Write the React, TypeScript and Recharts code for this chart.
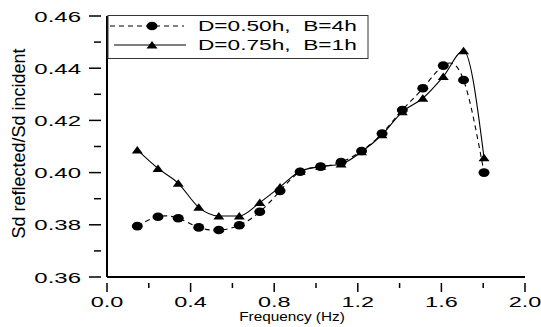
import { Label, Line, LineChart, XAxis, YAxis } from "recharts";

const freq = [0.145, 0.244, 0.341, 0.439, 0.535, 0.633, 0.731, 0.828, 0.924, 1.022, 1.12, 1.218, 1.316, 1.413, 1.511, 1.609, 1.706, 1.804];
const d50B4 = [0.3795, 0.3831, 0.3825, 0.379, 0.378, 0.3798, 0.385, 0.393, 0.4003, 0.4023, 0.404, 0.4083, 0.415, 0.424, 0.4323, 0.441, 0.4355, 0.4];
const d75B1 = [0.4087, 0.4016, 0.3959, 0.3867, 0.3834, 0.3834, 0.3885, 0.3945, 0.4005, 0.4023, 0.4033, 0.408, 0.4145, 0.4233, 0.4285, 0.4368, 0.4467, 0.4057];
const xTicks = [0, 0.2, 0.4, 0.6, 0.8, 1.0, 1.2, 1.4, 1.6, 1.8, 2.0];
const yTicks = [0.36, 0.37, 0.38, 0.39, 0.4, 0.41, 0.42, 0.43, 0.44, 0.45, 0.46];
const seriesNames = ["D=0.50h,  B=4h", "D=0.75h,  B=1h"];

const data = freq.map((f, i) => ({ f, a: d50B4[i], b: d75B1[i] }));

const font = "'Liberation Sans', Arial, sans-serif";

function XTick({ x, y, payload }: any) {
  const v = payload.value;
  const major = Math.round(v * 10) % 4 === 0;
  return (
    <g>
      <line x1={x} x2={x} y1={y} y2={y + (major ? 9 : 5)} stroke="#000" strokeWidth={1.5} />
      {major && (
        <text transform={`translate(${x},${y + 23.5}) scale(1.64,1)`} textAnchor="middle" fontSize={14.3} fontFamily={font} fill="#000">
          {v.toFixed(1)}
        </text>
      )}
    </g>
  );
}

function YTick({ x, y, payload }: any) {
  const v = payload.value;
  const major = Math.round(v * 100) % 2 === 0;
  return (
    <g>
      <line x1={x} x2={x - (major ? 12 : 7)} y1={y} y2={y} stroke="#000" strokeWidth={1.5} />
      {major && (
        <text transform={`translate(${x - 20},${y + 5.5}) scale(1.6,1)`} textAnchor="end" fontSize={15} fontFamily={font} fill="#000">
          {v.toFixed(2)}
        </text>
      )}
    </g>
  );
}

function CircleDot({ cx, cy }: any) {
  return <ellipse cx={cx} cy={cy} rx={5.5} ry={4.3} fill="#000" />;
}

function TriDot({ cx, cy }: any) {
  return <polygon points={`${cx - 5.5},${cy + 3.5} ${cx + 5.5},${cy + 3.5} ${cx},${cy - 4}`} fill="#000" />;
}

export default function App() {
  return (
    <div style={{ position: "absolute", left: 0, top: 0, width: 541, height: 327, background: "#fff" }}>
      <LineChart width={541} height={327} data={data} margin={{ top: 16, right: 16, bottom: 0, left: 0 }}>
        <XAxis
          dataKey="f"
          type="number"
          domain={[0, 2]}
          ticks={xTicks}
          interval={0}
          height={50}
          tickLine={false}
          tickMargin={0}
          tick={<XTick />}
          axisLine={{ stroke: "#000", strokeWidth: 2 }}
        >
          <Label
            content={() => (
              <text transform="translate(292,321) scale(1.18,1)" textAnchor="middle" fontSize={13} fontFamily={font} fill="#000">
                Frequency (Hz)
              </text>
            )}
          />
        </XAxis>
        <YAxis
          type="number"
          domain={[0.36, 0.46]}
          ticks={yTicks}
          interval={0}
          width={107}
          tickLine={false}
          tickMargin={0}
          tick={<YTick />}
          axisLine={{ stroke: "#000", strokeWidth: 2 }}
        >
          <Label
            content={() => (
              <text transform="translate(18.5,143.5) rotate(-90)" dy={6.5} textAnchor="middle" fontSize={18} fontFamily={font} fill="#000">
                Sd reflected/Sd incident
              </text>
            )}
          />
        </YAxis>
        <Line type="natural" dataKey="a" name={seriesNames[0]} stroke="#000" strokeWidth={1.1} strokeDasharray="5 4" dot={<CircleDot />} isAnimationActive={false} />
        <Line type="monotone" dataKey="b" name={seriesNames[1]} stroke="#000" strokeWidth={1.1} dot={<TriDot />} isAnimationActive={false} />
      </LineChart>
      <svg width={541} height={327} style={{ position: "absolute", left: 0, top: 0, pointerEvents: "none" }}>
        <rect x={108} y={15.5} width={260} height={43} fill="#fff" stroke="#333" strokeWidth={1} />
        <line x1={110} x2={184} y1={26} y2={26} stroke="#000" strokeWidth={1.1} strokeDasharray="5 4" />
        <ellipse cx={152} cy={26} rx={5.5} ry={4.3} fill="#000" />
        <text transform="translate(198,31) scale(1.62,1)" fontSize={14} fontFamily={font} fill="#000" style={{ whiteSpace: "pre" }}>
          {seriesNames[0]}
        </text>
        <line x1={114} x2={186} y1={45} y2={45} stroke="#000" strokeWidth={1.1} />
        <polygon points="146.5,48.5 157.5,48.5 152,41" fill="#000" />
        <text transform="translate(198,50) scale(1.62,1)" fontSize={14} fontFamily={font} fill="#000" style={{ whiteSpace: "pre" }}>
          {seriesNames[1]}
        </text>
      </svg>
    </div>
  );
}
